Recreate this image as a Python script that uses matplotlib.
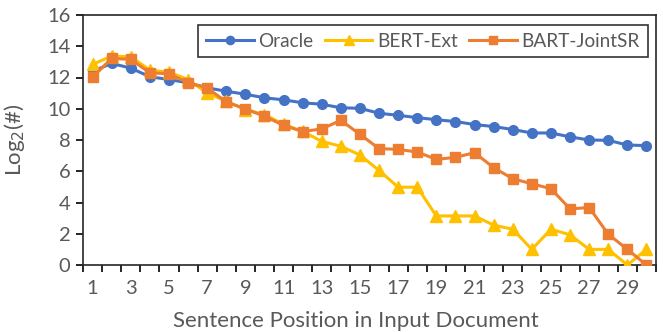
import matplotlib
matplotlib.use("Agg")
import matplotlib.pyplot as plt
import numpy as np

positions = list(range(1, 31))
oracle = [12.4, 12.9, 12.6, 12.05, 11.87, 11.66, 11.34, 11.12, 10.93, 10.7,
          10.57, 10.38, 10.29, 10.06, 10.03, 9.71, 9.58, 9.43, 9.3, 9.18,
          8.99, 8.86, 8.67, 8.45, 8.45, 8.2, 8.0, 7.98, 7.68, 7.64]
bert_ext = [12.84, 13.37, 13.33, 12.47, 12.34, 11.87, 11.0, 10.48, 9.95, 9.63,
            9.0, 8.56, 7.91, 7.6, 7.04, 6.05, 4.98, 4.98, 3.14, 3.14,
            3.14, 2.55, 2.29, 1.0, 2.29, 1.93, 1.0, 1.0, 0.0, 1.0]
bart_jointsr = [12.02, 13.22, 13.16, 12.3, 12.24, 11.66, 11.34, 10.44, 9.99, 9.52,
                8.94, 8.54, 8.71, 9.26, 8.36, 7.45, 7.4, 7.23, 6.76, 6.89,
                7.19, 6.23, 5.52, 5.2, 4.88, 3.59, 3.68, 1.97, 1.0, 0.0]

plt.rcParams['font.family'] = ['Lato', 'DejaVu Sans']
text_gray = '#595959'

fig = plt.figure(figsize=(6.63, 3.32), dpi=100)
ax = fig.add_axes([83 / 663, 1 - 265 / 332, 573 / 663, 250 / 332])

ax.plot(positions, oracle, color='#4472C4', marker='o', markersize=7, lw=2.2, label='Oracle', zorder=3)
ax.plot(positions, bert_ext, color='#FFC000', marker='^', markersize=9, lw=2.2, label='BERT-Ext', zorder=4)
ax.plot(positions, bart_jointsr, color='#ED7D31', marker='s', markersize=7, lw=2.2, label='BART-JointSR', zorder=5)

ax.set_xlim(0.5, 30.5)
ax.set_ylim(0, 16)
ax.set_yticks(np.arange(0, 17, 2))
ax.set_xticks(np.arange(1, 31, 2))
ax.set_xticks(np.arange(0.5, 31, 1), minor=True)
ax.tick_params(axis='x', which='major', length=0, pad=11, labelsize=14.5, labelcolor=text_gray)
ax.tick_params(axis='x', which='minor', length=5, width=1.2, direction='out')
ax.tick_params(axis='y', length=5, width=1.2, direction='out', labelsize=14.5, labelcolor=text_gray, pad=4)
for s in ax.spines.values():
    s.set_linewidth(1.2)
    s.set_color('#262626')

ax.set_xlabel('Sentence Position in Input Document', fontsize=16, color=text_gray)
ax.xaxis.set_label_coords(0.476, -0.185)
ax.set_ylabel('Log$_2$(#)', fontsize=16, color=text_gray)
ax.yaxis.set_label_coords(-0.098, 0.5)

leg = ax.legend(loc='upper right', ncol=3, fontsize=13.7, frameon=True, fancybox=False,
                bbox_to_anchor=(0.992, 0.975), handlelength=2.5, columnspacing=0.6,
                handletextpad=0.25, borderpad=0.4, borderaxespad=0.2, markerscale=0.85)
leg.get_frame().set_edgecolor('black')
leg.get_frame().set_linewidth(1.2)
for t in leg.get_texts():
    t.set_color(text_gray)

fig.savefig('out.png', dpi=100)
